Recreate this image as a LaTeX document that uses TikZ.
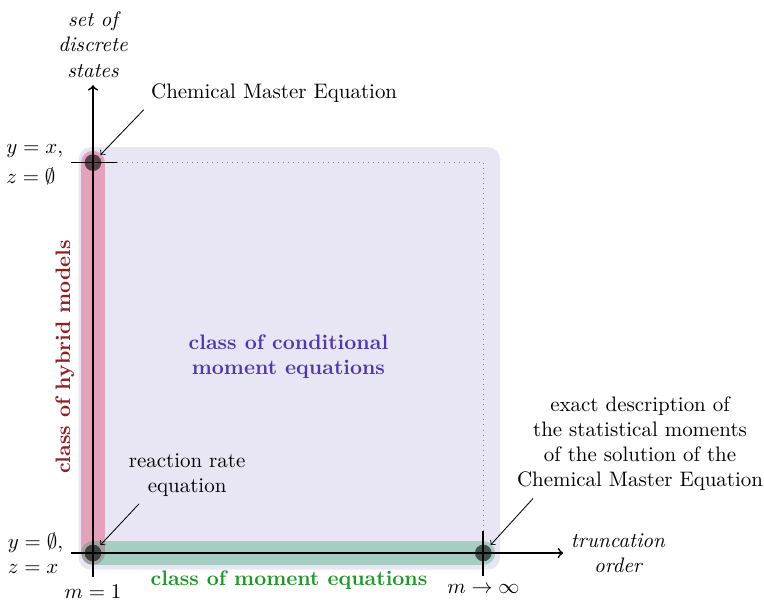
\documentclass[tikz,border=0pt]{standalone}
\definecolor{condcol}{RGB}{80,55,170}
\definecolor{hybcol}{RGB}{145,30,35}
\definecolor{momcol}{RGB}{30,150,40}
\definecolor{hybbar}{RGB}{220,40,90}
\definecolor{mombar}{RGB}{40,160,100}
\begin{document}
\begin{tikzpicture}[
    dot/.style={circle, fill=black, fill opacity=0.6, inner sep=0pt, minimum size=0.28cm},
    pointer/.style={->, thin, shorten >=1pt},
    bar/.style={line width=0.4cm, line cap=round},
    classlabel/.style={font=\bfseries, align=center}
  ]
    \useasboundingbox (-1.56,-0.805) rectangle (11.26,9.279);

    % Класс условных моментных уравнений
    \fill[condcol, fill opacity=0.13, rounded corners=0.2cm] (-0.24,-0.28) rectangle (6.83,6.81);

    % Гибридные модели и моментные уравнения
    \draw[bar, hybbar, draw opacity=0.36] (0,0) -- (0,6.55);
    \draw[bar, mombar, draw opacity=0.35] (0,0) -- (6.55,0);

    % Оси
    \draw[->, thick] (-0.37,0) node[left, align=left] (botlim) {$y=\emptyset,$\\$z=x$}
        -- (7.89,0) node[right, align=center, font=\itshape] (xlabel) {truncation\\order};
    \draw[->, thick] (0,-0.40) node[below] (mone) {$m=1$}
        -- (0,7.85) node[above, align=center, font=\itshape] (ylabel) {set of\\discrete\\states};

    % Отметки и пунктир
    \draw[thick] (-0.37,6.55) node[left, align=left, yshift=-1pt] (toplim) {$y=x,$\\[2pt]$z=\emptyset$} -- (0.40,6.55);
    \draw[thick] (6.55,0.37) -- (6.55,-0.39) node[below] (minf) {$m\to\infty$};
    \draw[dotted, gray] (0.40,6.55) -- (6.55,6.55) -- (6.55,0.37);

    % Точки
    \node[dot] (cme) at (0,6.55) {};
    \node[dot] (rre) at (0,0) {};
    \node[dot] (exact) at (6.55,0) {};

    % Подписи точек
    \node (cmelabel) at (3.04,7.72) {Chemical Master Equation};
    \node[align=center] (rrelabel) at (1.58,1.31) {reaction rate\\equation};
    \node[align=center] (exactlabel) at (9.18,1.83) {exact description of\\the statistical moments\\of the solution of the\\Chemical Master Equation};
    \draw[pointer] (cmelabel.south west) -- (cme);
    \draw[pointer] (rrelabel.211) -- (rre);
    \draw[pointer] (exactlabel.207) -- (exact);

    % Названия классов
    \node[classlabel, text=condcol] (condlabel) at (3.28,3.30) {class of conditional\\moment equations};
    \node[classlabel, text=hybcol, rotate=90] (hyblabel) at (-0.47,3.29) {class of hybrid models};
    \node[classlabel, text=momcol] (momlabel) at (3.29,-0.45) {class of moment equations};
\end{tikzpicture}
\end{document}
